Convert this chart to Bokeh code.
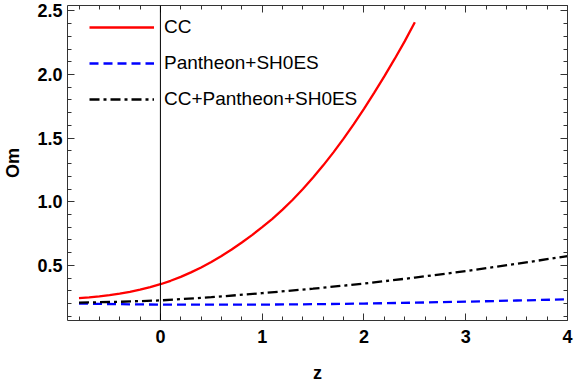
from bokeh.plotting import figure
from bokeh.models import Range1d, LinearAxis, Span, Legend, LegendItem, FixedTicker, PrintfTickFormatter
from bokeh.embed import file_html
from bokeh.resources import INLINE

# Data
z_cc = [-0.8, -0.7, -0.6, -0.5, -0.4, -0.3, -0.2, -0.1, 0.0, 0.1, 0.2, 0.3, 0.4, 0.5,
        0.6, 0.7, 0.8, 0.9, 1.0, 1.1, 1.2, 1.3, 1.4, 1.5, 1.6, 1.7, 1.8, 1.9, 2.0,
        2.1, 2.2, 2.3, 2.4, 2.5]
om_cc = [0.243, 0.249, 0.257, 0.266, 0.278, 0.292, 0.309, 0.329, 0.352, 0.379, 0.410,
         0.445, 0.484, 0.527, 0.574, 0.625, 0.680, 0.738, 0.800, 0.866, 0.938, 1.016,
         1.100, 1.190, 1.286, 1.388, 1.496, 1.610, 1.730, 1.855, 1.985, 2.120, 2.260, 2.410]

z_pan = [-0.8, -0.4, 0.0, 0.5, 1.0, 1.5, 2.0, 2.5, 3.0, 3.5, 4.0]
om_pan = [0.200, 0.195, 0.192, 0.191, 0.192, 0.195, 0.200, 0.207, 0.215, 0.224, 0.233]

z_all = [-0.8, -0.4, 0.0, 0.5, 1.0, 1.5, 2.0, 2.5, 3.0, 3.5, 4.0]
om_all = [0.207, 0.214, 0.225, 0.250, 0.282, 0.317, 0.357, 0.404, 0.455, 0.512, 0.573]

labels = ["CC", "Pantheon+SH0ES", "CC+Pantheon+SH0ES"]
x_ticks = [0, 1, 2, 3, 4]
y_ticks = [0.5, 1.0, 1.5, 2.0, 2.5]

FONT = "Liberation Sans"

p = figure(width=577, height=388, output_backend="svg", toolbar_location=None,
           x_range=Range1d(-0.913, 4.0), y_range=Range1d(0.067, 2.542),
           min_border_left=67, min_border_right=10, min_border_top=5, min_border_bottom=68)
p.grid.visible = False
p.outline_line_color = None
p.background_fill_color = "white"
p.border_fill_color = "white"

r1 = p.line(z_cc, om_cc, line_color="#ff0000", line_width=2.3)
r2 = p.line(z_pan, om_pan, line_color="#0000ff", line_width=2.3, line_dash="9 5")
r3 = p.line(z_all, om_all, line_color="black", line_width=2.3, line_dash="10 4 3 4")

p.add_layout(Span(location=0, dimension="height", line_color="black", line_width=1))

x_minor = [round(-0.8 + 0.2 * i, 2) for i in range(25)]
y_minor = [round(0.1 * i, 2) for i in range(1, 26)]

def style(ax, ticks, minor, show):
    ax.ticker = FixedTicker(ticks=ticks, minor_ticks=minor)
    ax.axis_line_color = "#333333"
    ax.axis_line_width = 1
    ax.major_tick_in = 7
    ax.major_tick_out = 0
    ax.minor_tick_in = 4
    ax.minor_tick_out = 0
    ax.major_tick_line_color = "#333333"
    ax.minor_tick_line_color = "#333333"
    if show:
        ax.major_label_text_font = FONT
        ax.major_label_text_font_style = "bold"
        ax.major_label_text_font_size = "18px"
        ax.major_label_text_color = "black"
        ax.axis_label_text_font = FONT
        ax.axis_label_text_font_style = "bold"
        ax.axis_label_text_font_size = "18px"
        ax.axis_label_text_color = "black"
    else:
        ax.major_label_text_color = None
        ax.major_label_text_font_size = "1px"
        ax.major_label_standoff = 0

xa = p.xaxis[0]
ya = p.yaxis[0]
style(xa, x_ticks, x_minor, True)
style(ya, y_ticks, y_minor, True)
ya.formatter = PrintfTickFormatter(format="%.1f")
xa.axis_label = "z"
ya.axis_label = "Om"
xa.major_label_standoff = 9
ya.major_label_standoff = 5
xa.axis_label_standoff = 17
ya.axis_label_standoff = 11

top = LinearAxis()
right = LinearAxis()
style(top, x_ticks, x_minor, False)
style(right, y_ticks, y_minor, False)
p.add_layout(top, "above")
p.add_layout(right, "right")

legend = Legend(items=[LegendItem(label=labels[0], renderers=[r1]),
                       LegendItem(label=labels[1], renderers=[r2]),
                       LegendItem(label=labels[2], renderers=[r3])],
                location=(22, 315 - 112), margin=0, padding=2, spacing=0,
                glyph_width=65, glyph_height=36, label_height=36, label_standoff=10,
                label_text_font=FONT, label_text_font_size="19px", label_text_color="black",
                border_line_color=None, background_fill_alpha=0)
p.add_layout(legend)

open("out.html", "w").write(file_html(p, INLINE))
